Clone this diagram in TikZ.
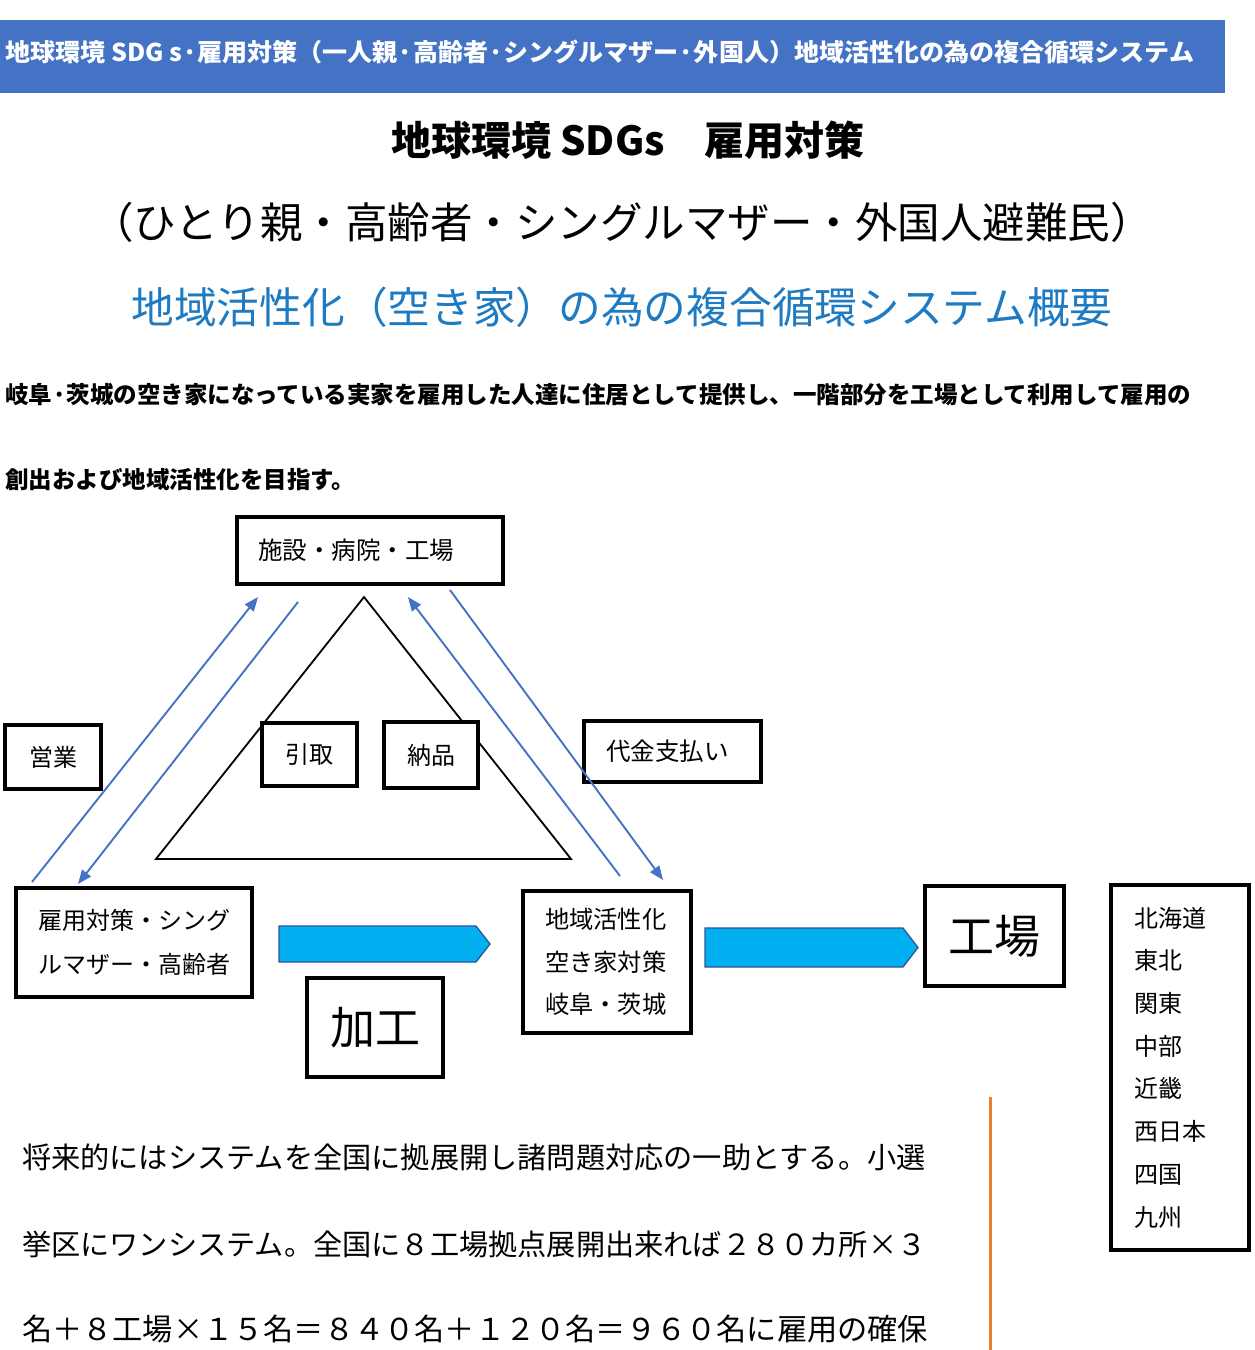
\documentclass[tikz,border=0pt]{standalone}
\usepackage{fontspec}
\setmainfont{Noto Sans CJK JP}
\usetikzlibrary{arrows.meta}
\definecolor{hdrblue}{RGB}{68,114,196}
\definecolor{titleblue}{RGB}{31,123,193}
\definecolor{cyanfill}{RGB}{0,176,240}
\definecolor{cyanedge}{RGB}{47,85,151}
\definecolor{arrblue}{RGB}{68,114,196}
\definecolor{orangeline}{RGB}{237,125,49}
\newcommand{\fsz}[2]{\fontsize{#1}{#2}\selectfont}
\tikzset{
  box/.style={draw=black, line width=3.5pt, fill=white, rectangle, inner sep=0pt},
  lbox/.style={box, align=left, inner ysep=0pt},
  flow/.style={draw=arrblue, line width=1.9pt, -{Triangle[length=14pt,width=11pt]}},
  blockarrow/.style={fill=cyanfill, draw=cyanedge, line width=1.3pt, line join=miter},
}
\begin{document}
\begin{tikzpicture}[x=1pt,y=-1pt]
\useasboundingbox (0,0) rectangle (1254,1350);
\fill[white] (0,0) rectangle (1254,1350);
% header
\fill[hdrblue] (0,20) rectangle (1225,93);
\node[anchor=west, text=white, font=\fsz{24.5}{28}\bfseries, inner sep=0pt] (hdr) at (5,52)
  {\scalebox{1.022}[1]{地球環境 SDG s·雇用対策（一人親·高齢者·シングルマザー·外国人）地域活性化の為の複合循環システム}};
% titles
\node[font=\fsz{40}{44}\bfseries, inner sep=0pt] (t1) at (628,140) {地球環境 SDGs　雇用対策};
\node[font=\fsz{42.5}{46}, inner sep=0pt] (t2) at (622,222) {（ひとり親・高齢者・シングルマザー・外国人避難民）};
\node[font=\fsz{42.7}{46}, text=titleblue, inner sep=0pt] (t3) at (622,307) {地域活性化（空き家）の為の複合循環システム概要};
% paragraph
\node[anchor=west, font=\fsz{23.5}{28}\bfseries, inner sep=0pt] (p1) at (5,395)
  {岐阜·茨城の空き家になっている実家を雇用した人達に住居として提供し、一階部分を工場として利用して雇用の};
\node[anchor=west, font=\fsz{23.5}{28}\bfseries, inner sep=0pt] (p2) at (5,480) {創出および地域活性化を目指す。};
% triangle
\coordinate (tA) at (364,597);
\coordinate (tB) at (156,859);
\coordinate (tC) at (571,859);
\draw[line width=1.8pt, line join=miter] (tA) -- (tB) -- (tC) -- cycle;
% boxes
\node[lbox, minimum width=266pt, minimum height=67pt, text width=224pt, font=\fsz{24.5}{28}] (fac) at (370,550.5) {施設・病院・工場};
\node[box, minimum width=95pt, minimum height=63pt, font=\fsz{24}{28}] (hiki) at (309.5,754.5) {引取};
\node[box, minimum width=94pt, minimum height=66pt, font=\fsz{24}{28}] (nohin) at (431,755) {納品};
\node[box, minimum width=96pt, minimum height=64pt, font=\fsz{24}{28}] (eigyo) at (53,757) {営業};
\node[lbox, minimum width=177pt, minimum height=61pt, text width=133pt, font=\fsz{24.5}{28}] (daikin) at (672.5,751.5) {代金支払い};
\node[lbox, minimum width=236pt, minimum height=109pt, text width=192pt, font=\fsz{24}{44}] (koyo) at (134,942.5) {雇用対策・シング\\ルマザー・高齢者};
\node[box, minimum width=136pt, minimum height=99pt, font=\fsz{45}{48}] (kako) at (375,1027.5) {加工};
\node[lbox, minimum width=168pt, minimum height=142pt, text width=124pt, font=\fsz{24.3}{42.5}] (chiiki) at (607,962) {地域活性化\\空き家対策\\岐阜・茨城};
\node[box, minimum width=139pt, minimum height=100pt, font=\fsz{46}{48}] (kojo) at (994.5,936) {工場};
\node[lbox, minimum width=138pt, minimum height=365pt, text width=92pt, font=\fsz{24}{42.7}] (region) at (1180,1067.5)
  {北海道\\東北\\関東\\中部\\近畿\\西日本\\四国\\九州};
% flow arrows (blue)
\coordinate (a1s) at (32,882);   \coordinate (a1e) at (258,597);
\coordinate (a2s) at (298,602);  \coordinate (a2e) at (78,884);
\coordinate (a3s) at (620,876);  \coordinate (a3e) at (408,597);
\coordinate (a4s) at (450,590);  \coordinate (a4e) at (663,880);
\draw[flow] (a1s) -- (a1e);
\draw[flow] (a2s) -- (a2e);
\draw[flow] (a3s) -- (a3e);
\draw[flow] (a4s) -- (a4e);
% block arrows
\draw[blockarrow] (279,926) -- (476,926) -- (490,944) -- (476,962) -- (279,962) -- cycle;
\draw[blockarrow] (705,928) -- (903,928) -- (918,947.5) -- (903,967) -- (705,967) -- cycle;
% orange line
\draw[orangeline, line width=3pt] (990,1097) -- (990,1350);
% bottom text
\node[anchor=west, font=\fsz{29.2}{32}, inner sep=0pt] (b1) at (22,1157) {将来的にはシステムを全国に拠展開し諸問題対応の一助とする。小選};
\node[anchor=west, font=\fsz{29.2}{32}, inner sep=0pt] (b2) at (22,1244) {挙区にワンシステム。全国に８工場拠点展開出来れば２８０カ所×３};
\node[anchor=west, font=\fsz{30.2}{33}, inner sep=0pt] (b3) at (22,1329) {名＋８工場×１５名＝８４０名＋１２０名＝９６０名に雇用の確保};
\end{tikzpicture}
\end{document}
